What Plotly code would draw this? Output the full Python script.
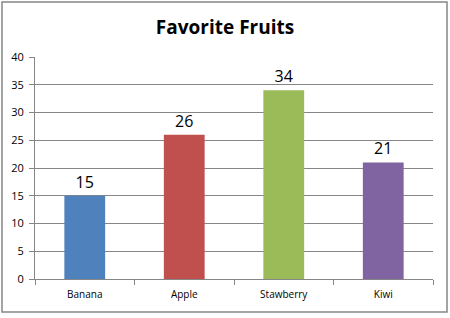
import plotly.graph_objects as go

categories = ["Banana", "Apple", "Stawberry", "Kiwi"]
values = [15, 26, 34, 21]
colors = ["#4F81BD", "#C0504D", "#9BBB59", "#8064A2"]
y_ticks = [0, 5, 10, 15, 20, 25, 30, 35, 40]

W, H = 450, 318
L, R, T, B = 35, 17, 57, 39
pw, ph = W - L - R, H - T - B

def px_x(p):
    return (p - L) / pw

def px_y(p):
    return (H - B - p) / ph

fig = go.Figure(go.Bar(
    x=categories, y=values, marker=dict(color=colors, line=dict(width=0)),
    width=0.41, text=[str(v) for v in values], textposition="outside",
    textfont=dict(family="Open Sans", size=16, color="#000"), cliponaxis=False,
))

fig.update_layout(
    width=W, height=H, margin=dict(l=L, r=R, t=T, b=B),
    paper_bgcolor="white", plot_bgcolor="white", showlegend=False,
    title=dict(text="<b>Favorite Fruits</b>", x=0.5, xanchor="center", y=1 - 27 / H, yanchor="middle",
               font=dict(family="Open Sans", size=19, color="#000")),
    xaxis=dict(showgrid=False, showline=True, linecolor="#868686", linewidth=1,
               ticks="outside", tickson="boundaries", ticklen=5, tickcolor="#868686",
               ticklabelstandoff=6,
               tickfont=dict(family="Open Sans", size=10, color="#000")),
    yaxis=dict(range=[0, 40], tickvals=y_ticks, showgrid=True, gridcolor="#868686", gridwidth=1,
               showline=True, linecolor="#868686", linewidth=1, zeroline=False,
               ticks="outside", ticklen=5, tickcolor="#868686", ticklabelstandoff=3,
               tickfont=dict(family="Open Sans", size=11, color="#000")),
    shapes=[dict(type="rect", xref="paper", yref="paper",
                 x0=px_x(2), x1=px_x(447), y0=px_y(312), y1=px_y(2),
                 line=dict(color="#868686", width=1.5), layer="below")],
)

fig.write_html("out.html")
